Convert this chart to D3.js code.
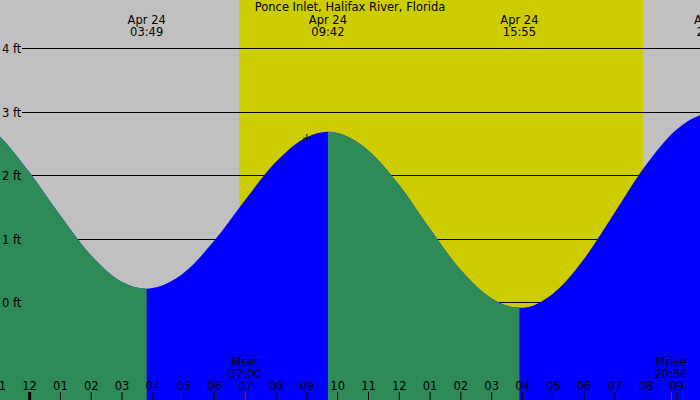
<!DOCTYPE html>
<html><head><meta charset="utf-8">
<script src="https://cdn.jsdelivr.net/npm/d3@7"></script>
<style>
html,body{margin:0;padding:0;background:#fff;}
svg{display:block;}
text{font-family:"DejaVu Sans",sans-serif;font-size:11.5px;fill:#000;}
</style>
</head><body>
<svg id="chart" width="700" height="400"></svg>
<script>
const title = "Ponce Inlet, Halifax River, Florida";
const year = 2024;

// Tide extremes (high / low)
const extremeDays  = ["04-23", "04-24", "04-24", "04-24", "04-24"];
const extremeTimes = ["21:30", "03:49", "09:42", "15:55", "22:12"];
const extremeFeet  = [3.00, 0.21, 2.68, -0.09, 2.98];

// Hourly heights
const sampleDays  = ["04-23","04-23","04-24","04-24","04-24","04-24","04-24","04-24","04-24","04-24","04-24","04-24","04-24","04-24","04-24","04-24","04-24","04-24","04-24","04-24","04-24","04-24","04-24","04-24","04-24"];
const sampleTimes = ["22:00","23:00","00:00","01:00","02:00","03:00","04:00","05:00","06:00","07:00","08:00","09:00","10:00","11:00","12:00","13:00","14:00","15:00","16:00","17:00","18:00","19:00","20:00","21:00","22:00"];
const sampleFeet  = [2.96, 2.63, 2.05, 1.37, 0.74, 0.32, 0.22, 0.45, 0.96, 1.60, 2.20, 2.59, 2.66, 2.39, 1.85, 1.16, 0.51, 0.06, -0.09, 0.13, 0.67, 1.40, 2.14, 2.71, 2.97];

// Day light
const sunrise = "06:49";
const sunset  = "19:56";

// Moon events
const moonNames = ["Mset", "Mrise"];
const moonTimes = ["07:00", "20:50"];

// Current-time marker
const nowTime = "09:01";
const nowFeet = 2.58;

// Axis
const feetTicks = [0, 1, 2, 3, 4];
const feetTickLabels = ["0 ft", "1 ft", "2 ft", "3 ft", "4 ft"];

const W = 700, H = 400;
const parse = (md, hm) => d3.timeParse("%Y-%m-%d %H:%M")(`${year}-${md} ${hm}`);
const midnight = parse("04-24", "00:00");

const pxPerHour = 30.805, originPx = 29.1;
const hourMs = 3600e3;
const x = d3.scaleTime()
  .domain([new Date(+midnight - originPx / pxPerHour * hourMs),
           new Date(+midnight + (W - originPx) / pxPerHour * hourMs)])
  .range([0, W]);
const y = d3.scaleLinear().domain([0, 4]).range([302, 48]);

const svg = d3.select("#chart");

// Background: night gray, day yellow
svg.append("rect").attr("x", 0).attr("y", 0).attr("width", W).attr("height", H).attr("fill", "#c0c0c0");
const sr = x(parse("04-24", sunrise)), ss = x(parse("04-24", sunset));
svg.append("rect").attr("x", sr).attr("y", 0).attr("width", ss - sr).attr("height", H).attr("fill", "#cccc00");

// Grid lines
svg.append("g").selectAll("line").data(feetTicks).join("line")
  .attr("x1", 22).attr("x2", W)
  .attr("y1", d => Math.round(y(d)) + 0.5).attr("y2", d => Math.round(y(d)) + 0.5)
  .attr("stroke", "#000").attr("stroke-width", 1);

// Tide data
const extremes = extremeTimes.map((t, i) => ({ t: parse(extremeDays[i], t), h: extremeFeet[i] }));
const samples = sampleTimes.map((t, i) => ({ t: parse(sampleDays[i], t), h: sampleFeet[i] }));
const pts = extremes.concat(samples).sort((a, b) => a.t - b.t);

const area = d3.area()
  .x(d => x(d.t)).y0(H).y1(d => y(d.h))
  .curve(d3.curveMonotoneX);

// Rising (blue) everywhere, falling (green) clipped on top
svg.append("path").datum(pts).attr("d", area).attr("fill", "#0000ff");
const defs = svg.append("defs");
extremes.forEach((e, i) => {
  if (i + 1 >= extremes.length) return;
  const n = extremes[i + 1];
  if (e.h > n.h) {
    const id = "fall" + i;
    defs.append("clipPath").attr("id", id).append("rect")
      .attr("x", x(e.t)).attr("y", 0).attr("width", x(n.t) - x(e.t)).attr("height", H);
    svg.append("path").datum(pts).attr("d", area).attr("fill", "#2e8b57").attr("clip-path", `url(#${id})`);
  }
});

// Left labels
svg.append("g").selectAll("text").data(feetTicks).join("text")
  .attr("x", 2).attr("y", d => Math.round(y(d)) + 4.5)
  .text((d, i) => feetTickLabels[i]);

// Title
svg.append("text").attr("x", W / 2).attr("y", 11).attr("text-anchor", "middle").text(title);

// Extreme labels (only those inside the time window)
const fmtDate = d3.timeFormat("%b %d"), fmtTime = d3.timeFormat("%H:%M");
const [t0, t1] = x.domain();
const visibleExtremes = extremes.filter(d => d.t >= t0 && x(d.t) <= W + 30);
const el = svg.append("g").selectAll("g").data(visibleExtremes).join("g");
el.append("text").attr("x", d => x(d.t)).attr("y", 24).attr("text-anchor", "middle").text(d => fmtDate(d.t));
el.append("text").attr("x", d => x(d.t)).attr("y", 36).attr("text-anchor", "middle").text(d => fmtTime(d.t));

// Hour axis along bottom
const hours = d3.timeHour.range(d3.timeHour.floor(t0), t1);
const axis = svg.append("g").attr("transform", `translate(0,${H})`)
  .call(d3.axisTop(x).tickValues(hours).tickSize(8).tickPadding(2).tickFormat(d3.timeFormat("%I")));
axis.select(".domain").remove();
axis.selectAll(".tick line").attr("stroke", "#000")
  .attr("stroke-width", d => d.getHours() === 0 ? 3 : 1);

// Moon events
const moon = moonTimes.map((t, i) => ({ t: parse("04-24", t), name: moonNames[i], label: t }));
const mg = svg.append("g").selectAll("g").data(moon).join("g");
mg.append("line").attr("x1", d => x(d.t) + 0.5).attr("x2", d => x(d.t) + 0.5)
  .attr("y1", H - 8).attr("y2", H).attr("stroke", "#ff0000").attr("stroke-width", 1);
mg.append("text").attr("x", d => x(d.t)).attr("y", 366).attr("text-anchor", "middle").text(d => d.name);
mg.append("text").attr("x", d => x(d.t)).attr("y", 378).attr("text-anchor", "middle").text(d => d.label);

// Current time marker
const nx = x(parse("04-24", nowTime)), ny = y(nowFeet);
svg.append("path")
  .attr("d", `M${nx - 4},${ny}H${nx + 4}M${nx},${ny - 4}V${ny + 4}`)
  .attr("stroke", "#000").attr("stroke-width", 1).attr("fill", "none");
</script>
</body></html>
